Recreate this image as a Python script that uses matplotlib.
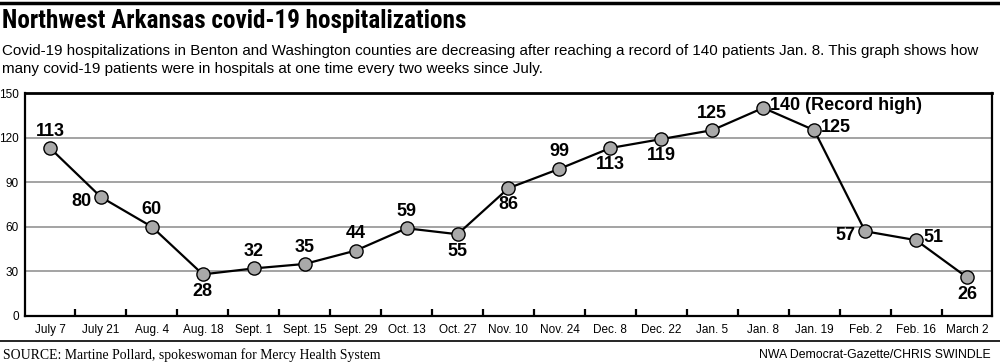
import matplotlib
matplotlib.use("Agg")
import matplotlib.pyplot as plt
from matplotlib.lines import Line2D
from matplotlib import font_manager

dates = ["July 7", "July 21", "Aug. 4", "Aug. 18", "Sept. 1", "Sept. 15", "Sept. 29",
         "Oct. 13", "Oct. 27", "Nov. 10", "Nov. 24", "Dec. 8", "Dec. 22", "Jan. 5",
         "Jan. 8", "Jan. 19", "Feb. 2", "Feb. 16", "March 2"]
patients = [113, 80, 60, 28, 32, 35, 44, 59, 55, 86, 99, 113, 119, 125, 140, 125, 57, 51, 26]
label_pos = ["above", "left", "above", "below", "above", "above", "above", "above", "below",
             "below", "above", "below", "below", "above", "right", "right", "left", "right", "below"]
y_ticks = [0, 30, 60, 90, 120, 150]

SANS = ["Liberation Sans", "DejaVu Sans"]
plt.rcParams["font.family"] = SANS

installed = {f.name for f in font_manager.fontManager.ttflist}
narrow = [n for n in ["Liberation Sans Narrow", "DejaVu Sans Condensed", "Roboto Condensed",
                      "Open Sans Condensed", "Roboto"] if n in installed]
TITLE_FAMILY = narrow[:1] + ["DejaVu Sans"]

W, H = 1000, 364
fig = plt.figure(figsize=(W / 100, H / 100), dpi=100)

ax = fig.add_axes([24.5 / W, 1 - 316 / H, (992.5 - 24.5) / W, (316 - 93) / H])
x = list(range(len(dates)))
ax.set_xlim(-0.5, len(dates) - 0.5)
ax.set_ylim(0, 150)

for v in y_ticks[1:-1]:
    ax.axhline(v, color="#8a8a8a", lw=1.1, zorder=1)

ax.plot(x, patients, color="black", lw=1.6, zorder=3)
ax.plot(x, patients, "o", ms=9.5, mfc="#a9a9a9", mec="black", mew=1.0, zorder=4)

lab_font = dict(fontsize=13, fontweight="bold", family=SANS, zorder=5)
for i, (v, p) in enumerate(zip(patients, label_pos)):
    if p == "above":
        ax.annotate(str(v), (i, v), xytext=(0, 6), textcoords="offset points",
                    ha="center", va="bottom", **lab_font)
    elif p == "below":
        ax.annotate(str(v), (i, v), xytext=(0, -6), textcoords="offset points",
                    ha="center", va="top", **lab_font)
    elif p == "left":
        ax.annotate(str(v), (i, v), xytext=(-7, -3), textcoords="offset points",
                    ha="right", va="center", **lab_font)
    else:
        txt = str(v) + (" (Record high)" if v == max(patients) else "")
        ax.annotate(txt, (i, v), xytext=(5, 2), textcoords="offset points",
                    ha="left", va="center", **lab_font)

for s in ["left", "right", "bottom"]:
    ax.spines[s].set_linewidth(1.6)
ax.spines["top"].set_linewidth(2.0)

ax.set_yticks(y_ticks)
ax.set_yticklabels([str(v) for v in y_ticks], fontsize=8.5)
ax.tick_params(axis="y", length=0, pad=4)

ax.set_xticks(x)
ax.set_xticklabels(dates, fontsize=8.5)
ax.tick_params(axis="x", which="major", length=0, pad=6)
ax.set_xticks([i + 0.5 for i in x[:-1]], minor=True)
ax.tick_params(axis="x", which="minor", direction="in", length=5, width=1.6, color="black")

# header
fig.add_artist(Line2D([0, 1], [1 - 2.5 / H, 1 - 2.5 / H], color="black", lw=2.5))
title = fig.text(2 / W, 1 - 21 / H, "Northwest Arkansas covid-19 hospitalizations",
                 fontsize=19, fontweight="bold", fontstretch="condensed",
                 family=TITLE_FAMILY, va="center", ha="left")
# fit title to the reference width (about 466 px) if the font is wider
fig.canvas.draw()
bb = title.get_window_extent()
if bb.width > 470:
    title.set_fontsize(max(15, 19 * 466 / bb.width))

fig.text(2 / W, 1 - 51 / H,
         "Covid-19 hospitalizations in Benton and Washington counties are decreasing after reaching a record of 140 patients Jan. 8. This graph shows how",
         fontsize=10.9, va="center", ha="left")
fig.text(2 / W, 1 - 69 / H,
         "many covid-19 patients were in hospitals at one time every two weeks since July.",
         fontsize=10.9, va="center", ha="left")

# footer
fig.add_artist(Line2D([0, 1], [1 - 341 / H, 1 - 341 / H], color="black", lw=1.2))
fig.text(3 / W, 1 - 355 / H, "SOURCE: Martine Pollard, spokeswoman for Mercy Health System",
         fontsize=9.9, family=["Liberation Serif", "DejaVu Serif"], va="center", ha="left")
fig.text(991 / W, 1 - 355 / H, "NWA Democrat-Gazette/CHRIS SWINDLE",
         fontsize=8.8, va="center", ha="right")

fig.savefig("out.png", dpi=100)
